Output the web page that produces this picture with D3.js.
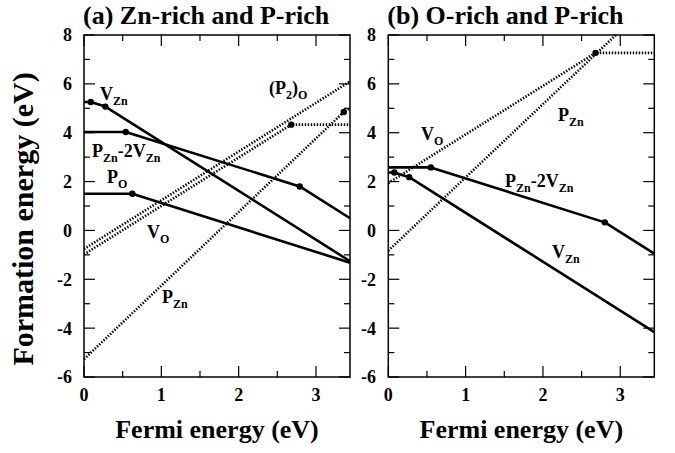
<!DOCTYPE html>
<html>
<head>
<meta charset="UTF-8">
<title>Formation energy</title>
<script src="https://d3js.org/d3.v7.min.js"></script>
<style>
  body { margin: 0; background: #fff; }
</style>
</head>
<body>
<svg id="mainsvg" width="675" height="453" font-family="Liberation Serif" font-weight="bold"></svg>
<script>
// axis values
const xMajor = [0, 1, 2, 3];
const xMinor = [0.5, 1.5, 2.5];
const yMajor = [-6, -4, -2, 0, 2, 4, 6, 8];
const yMinor = [-5, -3, -1, 1, 3, 5, 7];
const xMax = 3.44;

// panel (a): Zn-rich and P-rich
const aVZn = [[0, 5.26], [0.087, 5.26], [0.276, 5.07], [3.44, -1.26]];
const aPZn2VZn = [[0, 4.03], [0.54, 4.03], [2.79, 1.80], [3.44, 0.50]];
const aPO = [[0, 1.50], [0.625, 1.50], [3.44, -1.32]];
const aVO = [[0, -0.98], [2.68, 4.33], [3.44, 4.33]];
const aP2O = [[0, -0.76], [3.44, 6.10]];
const aPZn = [[0, -5.27], [3.36, 4.85], [3.44, 5.0]];
const aDots = [[0.087, 5.26], [0.276, 5.07], [0.54, 4.03], [2.79, 1.80], [0.625, 1.50], [2.68, 4.33], [3.36, 4.85]];

// panel (b): O-rich and P-rich
const bVZn = [[0, 2.37], [0.078, 2.37], [0.27, 2.18], [3.44, -4.16]];
const bPZn2VZn = [[0, 2.58], [0.55, 2.58], [2.80, 0.33], [3.44, -0.95]];
const bVO = [[0, 1.94], [2.68, 7.27], [3.44, 7.27]];
const bPZn = [[0, -0.83], [2.943, 8.0]];
const bDots = [[0.078, 2.37], [0.27, 2.18], [0.55, 2.58], [2.80, 0.33], [2.68, 7.27]];

const svg = d3.select('#mainsvg');
const plotTop = 35, plotBottom = 377;

const panels = [
  { id: 'a', left: 84, right: 350, title: '(a) Zn-rich and P-rich', tickX: 72,
    solid: [aVZn, aPZn2VZn, aPO], dotted: [aVO, aP2O, aPZn], dots: aDots,
    labels: [
      { x: 100, y: 100, parts: [['V', 0], ['Zn', 1]] },
      { x: 92, y: 157, parts: [['P', 0], ['Zn', 1], ['-2V', 0], ['Zn', 1]] },
      { x: 107, y: 183, parts: [['P', 0], ['O', 1]] },
      { x: 147, y: 238, parts: [['V', 0], ['O', 1]] },
      { x: 162, y: 303, parts: [['P', 0], ['Zn', 1]] },
      { x: 269, y: 94, parts: [['(P', 0], ['2', 1], [')', 0], ['O', 1]] }
    ] },
  { id: 'b', left: 388.3, right: 654.3, title: '(b) O-rich and P-rich', tickX: 376,
    solid: [bVZn, bPZn2VZn], dotted: [bVO, bPZn], dots: bDots,
    labels: [
      { x: 421, y: 140, parts: [['V', 0], ['O', 1]] },
      { x: 558, y: 121, parts: [['P', 0], ['Zn', 1]] },
      { x: 505, y: 187, parts: [['P', 0], ['Zn', 1], ['-2V', 0], ['Zn', 1]] },
      { x: 552, y: 258, parts: [['V', 0], ['Zn', 1]] }
    ] }
];

panels.forEach(p => {
  const x = d3.scaleLinear().domain([0, xMax]).range([p.left, p.right]);
  const y = d3.scaleLinear().domain([-6, 8]).range([plotBottom, plotTop]);
  const g = svg.append('g').attr('id', 'panel-' + p.id);

  g.append('clipPath').attr('id', 'clip-' + p.id)
    .append('rect')
    .attr('x', p.left).attr('y', plotTop)
    .attr('width', p.right - p.left).attr('height', plotBottom - plotTop);

  // ticks on all four sides, pointing inward
  const tick = (len, vals, axis) => {
    vals.forEach(v => {
      if (axis === 'x') {
        g.append('line').attr('x1', x(v)).attr('x2', x(v)).attr('y1', plotBottom).attr('y2', plotBottom - len);
        g.append('line').attr('x1', x(v)).attr('x2', x(v)).attr('y1', plotTop).attr('y2', plotTop + len);
      } else {
        g.append('line').attr('y1', y(v)).attr('y2', y(v)).attr('x1', p.left).attr('x2', p.left + len);
        g.append('line').attr('y1', y(v)).attr('y2', y(v)).attr('x1', p.right).attr('x2', p.right - len);
      }
    });
  };
  tick(11, xMajor, 'x'); tick(6, xMinor, 'x');
  tick(11, yMajor, 'y'); tick(6, yMinor, 'y');
  g.selectAll('line').attr('stroke', '#000').attr('stroke-width', 1.2);

  g.append('rect')
    .attr('x', p.left).attr('y', plotTop)
    .attr('width', p.right - p.left).attr('height', plotBottom - plotTop)
    .attr('fill', 'none').attr('stroke', '#000').attr('stroke-width', 1.5);

  // tick labels
  g.selectAll('.xt').data(xMajor).join('text')
    .attr('x', d => x(d)).attr('y', 401)
    .attr('text-anchor', 'middle').attr('font-size', 18).text(d => d);
  g.selectAll('.yt').data(yMajor).join('text')
    .attr('x', p.tickX).attr('y', d => y(d)).attr('dy', '0.36em')
    .attr('text-anchor', 'end').attr('font-size', 18).text(d => d);

  const line = d3.line().x(d => x(d[0])).y(d => y(d[1]));
  const lines = g.append('g').attr('clip-path', `url(#clip-${p.id})`);
  lines.selectAll('.solid').data(p.solid).join('path')
    .attr('d', line).attr('fill', 'none').attr('stroke', '#000')
    .attr('stroke-width', 2.6).attr('stroke-linejoin', 'round');
  lines.selectAll('.dotted').data(p.dotted).join('path')
    .attr('d', line).attr('fill', 'none').attr('stroke', '#000')
    .attr('stroke-width', 2.6).attr('stroke-dasharray', '1.4,1.6');
  lines.selectAll('circle').data(p.dots).join('circle')
    .attr('cx', d => x(d[0])).attr('cy', d => y(d[1])).attr('r', 3.2).attr('fill', '#000');

  // curve labels
  p.labels.forEach(l => {
    const t = g.append('text').attr('x', l.x).attr('y', l.y).attr('font-size', 18);
    let shifted = false;
    l.parts.forEach(([s, sub]) => {
      const ts = t.append('tspan').text(s);
      if (sub) { ts.attr('font-size', 12).attr('dy', shifted ? 0 : 5); shifted = true; }
      else { ts.attr('dy', shifted ? -5 : 0); shifted = false; }
    });
  });

  g.append('text').attr('x', p.left - 1).attr('y', 24).attr('font-size', 26).text(p.title);
  g.append('text').attr('x', (p.left + p.right) / 2).attr('y', 438)
    .attr('text-anchor', 'middle').attr('font-size', 26).text('Fermi energy (eV)');
});

svg.append('text')
  .attr('transform', 'translate(33, 219) rotate(-90)')
  .attr('text-anchor', 'middle').attr('font-size', 30)
  .text('Formation energy (eV)');
</script>
</body>
</html>
